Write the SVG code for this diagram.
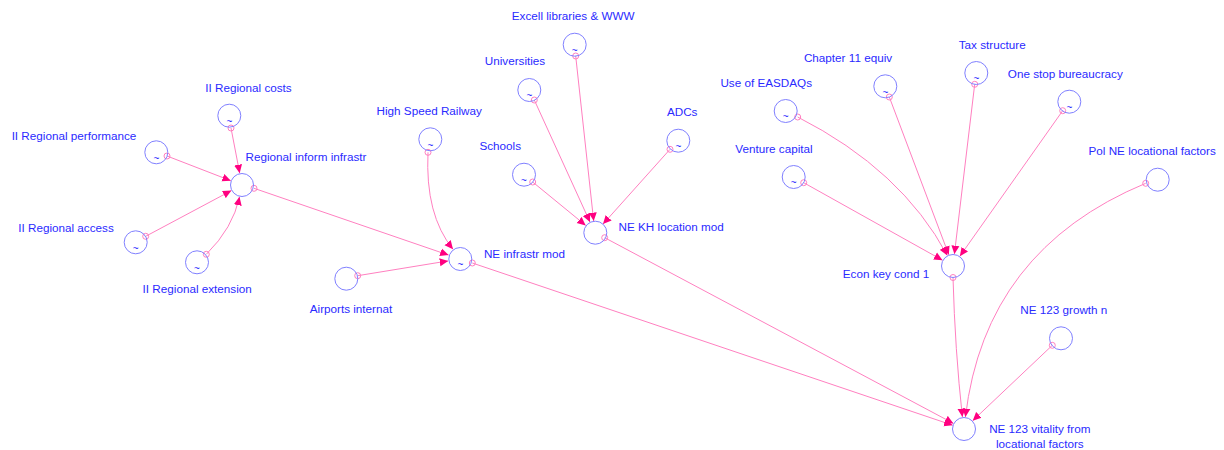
<svg xmlns="http://www.w3.org/2000/svg" width="1224" height="450" viewBox="0 0 1224 450">
<defs>
<style>
.n{fill:none;stroke:#8080ff;stroke-width:1}
.t{font-family:"Liberation Sans",Arial,sans-serif;font-size:11.7px;fill:#2a2aff;text-anchor:middle}
.g{font-family:"Liberation Sans",Arial,sans-serif;font-size:10px;fill:#2a2aff;text-anchor:middle}
.c{fill:none;stroke:#ff80c0;stroke-width:1;marker-end:url(#ah)}
.s{fill:none;stroke:#ff80c0;stroke-width:1}
</style>
<marker id="ah" markerUnits="userSpaceOnUse" markerWidth="9" markerHeight="9" refX="8.5" refY="4" orient="auto" viewBox="0 0 9 8">
<path d="M0,0 L8.5,4 L0,8 z" fill="#ff0080"/>
</marker>
</defs>
<rect width="1224" height="450" fill="#ffffff"/>
<g id="connectors">
<path class="c" d="M231,128 L239.7,173.2"/>
<path class="c" d="M167,156 L230.8,180.7"/>
<path class="c" d="M145.7,236.3 L231.4,190.6"/>
<path class="c" d="M206.3,254.3 Q233,228 239.5,196.8"/>
<path class="c" d="M254,188.3 L448.6,255.1"/>
<path class="c" d="M428,152.3 Q425,215 453,249.2"/>
<path class="c" d="M357.7,275.7 L448.2,260.9"/>
<path class="c" d="M472.3,263 L952.6,425.2"/>
<path class="c" d="M532.7,182 L585.7,225.4"/>
<path class="c" d="M534.3,100 L590,222.1"/>
<path class="c" d="M575.7,56 L593.7,221.1"/>
<path class="c" d="M670,149.3 L603,224.1"/>
<path class="c" d="M604.7,237.7 L953.4,423.4"/>
<path class="c" d="M797.7,117 Q901.7,170 947.3,255.4"/>
<path class="c" d="M803.7,182.7 L942.5,260.2"/>
<path class="c" d="M889.3,97 L948.8,254.8"/>
<path class="c" d="M974.7,84.3 L954.4,254.1"/>
<path class="c" d="M1062.7,110.7 L959.9,256.2"/>
<path class="c" d="M953,277.5 Q955,350 962.4,417.1"/>
<path class="c" d="M1145.7,183.3 Q985,250 965.4,417.1"/>
<path class="c" d="M1052.3,345.3 L972.7,420.7"/>
<circle class="s" cx="231" cy="128" r="3"/>
<circle class="s" cx="167" cy="156" r="3"/>
<circle class="s" cx="145.7" cy="236.3" r="3"/>
<circle class="s" cx="206.3" cy="254.3" r="3"/>
<circle class="s" cx="254" cy="188.3" r="3"/>
<circle class="s" cx="428" cy="152.3" r="3"/>
<circle class="s" cx="357.7" cy="275.7" r="3"/>
<circle class="s" cx="472.3" cy="263" r="3"/>
<circle class="s" cx="532.7" cy="182" r="3"/>
<circle class="s" cx="534.3" cy="100" r="3"/>
<circle class="s" cx="575.7" cy="56" r="3"/>
<circle class="s" cx="670" cy="149.3" r="3"/>
<circle class="s" cx="604.7" cy="237.7" r="3"/>
<circle class="s" cx="797.7" cy="117" r="3"/>
<circle class="s" cx="803.7" cy="182.7" r="3"/>
<circle class="s" cx="889.3" cy="97" r="3"/>
<circle class="s" cx="974.7" cy="84.3" r="3"/>
<circle class="s" cx="1062.7" cy="110.7" r="3"/>
<circle class="s" cx="953" cy="277.5" r="3"/>
<circle class="s" cx="1145.7" cy="183.3" r="3"/>
<circle class="s" cx="1052.3" cy="345.3" r="3"/>
</g>
<g id="n-costs"><circle class="n" cx="229.3" cy="115.7" r="11.5"/><text class="g" x="229.3" y="125">~</text><text class="t" x="248.5" y="92">II Regional costs</text></g>
<g id="n-performance"><circle class="n" cx="156.3" cy="152.3" r="11.5"/><text class="g" x="156.3" y="161.5">~</text><text class="t" x="74" y="140">II Regional performance</text></g>
<g id="n-rii"><circle class="n" cx="242" cy="185" r="11.5"/><text class="t" x="306" y="161">Regional inform infrastr</text></g>
<g id="n-access"><circle class="n" cx="135.7" cy="242.3" r="11.5"/><text class="g" x="135.7" y="251.5">~</text><text class="t" x="66" y="232">II Regional access</text></g>
<g id="n-extension"><circle class="n" cx="197" cy="262.3" r="11.5"/><text class="g" x="197" y="271.5">~</text><text class="t" x="197.2" y="293">II Regional extension</text></g>
<g id="n-hsr"><circle class="n" cx="430.3" cy="139.3" r="11.5"/><text class="g" x="430.3" y="148.5">~</text><text class="t" x="429.2" y="115">High Speed Railway</text></g>
<g id="n-airports"><circle class="n" cx="346.3" cy="278.7" r="11.5"/><text class="t" x="351" y="312.6">Airports internat</text></g>
<g id="n-nei"><circle class="n" cx="460.3" cy="259" r="11.5"/><text class="g" x="460.3" y="268.2">~</text><text class="t" x="524.5" y="258">NE infrastr mod</text></g>
<g id="n-excell"><circle class="n" cx="574.7" cy="44.7" r="11.5"/><text class="g" x="574.7" y="53.9">~</text><text class="t" x="573.2" y="20">Excell libraries &amp; WWW</text></g>
<g id="n-univ"><circle class="n" cx="529.3" cy="90" r="11.5"/><text class="g" x="529.3" y="99.2">~</text><text class="t" x="515" y="65">Universities</text></g>
<g id="n-adcs"><circle class="n" cx="678.3" cy="140.7" r="11.5"/><text class="g" x="678.3" y="149.9">~</text><text class="t" x="682.2" y="116">ADCs</text></g>
<g id="n-schools"><circle class="n" cx="524" cy="174.7" r="11.5"/><text class="g" x="524" y="183.9">~</text><text class="t" x="500.2" y="150">Schools</text></g>
<g id="n-nekh"><circle class="n" cx="595.3" cy="232.7" r="11.5"/><text class="t" x="671.2" y="231">NE KH location mod</text></g>
<g id="n-easdaq"><circle class="n" cx="785.7" cy="111" r="11.5"/><text class="g" x="785.7" y="120.2">~</text><text class="t" x="766.2" y="86.6">Use of EASDAQs</text></g>
<g id="n-ch11"><circle class="n" cx="885.3" cy="86.3" r="11.5"/><text class="g" x="885.3" y="95.5">~</text><text class="t" x="848" y="61.6">Chapter 11 equiv</text></g>
<g id="n-tax"><circle class="n" cx="976.3" cy="73" r="11.5"/><text class="g" x="976.3" y="82.2">~</text><text class="t" x="992.2" y="48.6">Tax structure</text></g>
<g id="n-onestop"><circle class="n" cx="1069.3" cy="101.7" r="11.5"/><text class="g" x="1069.3" y="110.9">~</text><text class="t" x="1065.3" y="77.6">One stop bureaucracy</text></g>
<g id="n-venture"><circle class="n" cx="793.7" cy="177" r="11.5"/><text class="g" x="793.7" y="186.2">~</text><text class="t" x="774" y="153">Venture capital</text></g>
<g id="n-pol"><circle class="n" cx="1157.7" cy="179.7" r="11.5"/><text class="t" x="1152.2" y="155.3">Pol NE locational factors</text></g>
<g id="n-econ"><circle class="n" cx="953" cy="266" r="11.5"/><text class="t" x="886" y="277.6">Econ key cond 1</text></g>
<g id="n-growth"><circle class="n" cx="1061" cy="338.3" r="11.5"/><text class="t" x="1063.8" y="314.3">NE 123 growth n</text></g>
<g id="n-vitality"><circle class="n" cx="964" cy="429" r="11.5"/><text class="t" x="1039.8" y="433.3">NE 123 vitality from</text><text class="t" x="1039.8" y="448.3">locational factors</text></g>
</svg>
